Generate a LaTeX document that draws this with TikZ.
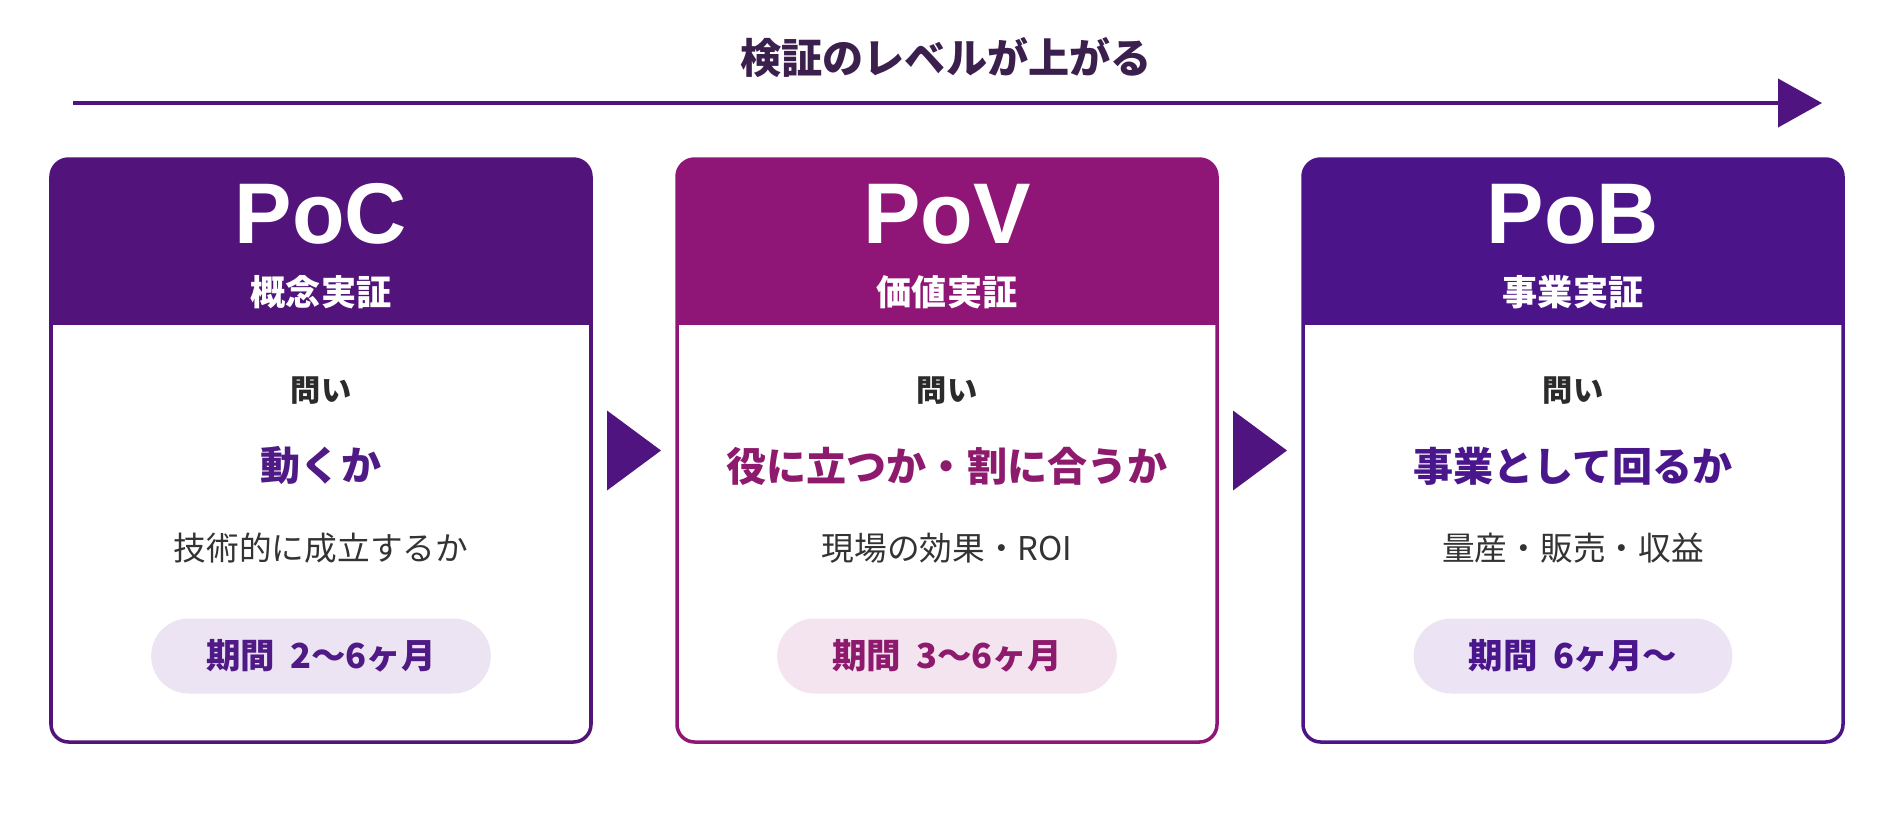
\documentclass[tikz,border=0pt]{standalone}
\usepackage{fontspec}
\setmainfont{Noto Sans CJK JP}
\newfontfamily\headfont{Liberation Sans}
\usetikzlibrary{arrows.meta, positioning, calc}

\definecolor{pocmain}{HTML}{52147A}
\definecolor{povmain}{HTML}{8F1676}
\definecolor{pobmain}{HTML}{4B1489}
\definecolor{pocpill}{HTML}{ECE3F3}
\definecolor{povpill}{HTML}{F4E4EF}
\definecolor{pobpill}{HTML}{ECE4F4}
\definecolor{poctext}{HTML}{4F1A85}
\definecolor{povtext}{HTML}{8E1A6E}
\definecolor{pobtext}{HTML}{4A168C}
\definecolor{titletext}{HTML}{3B1F4D}
\definecolor{asktext}{HTML}{2B2B2B}
\definecolor{bodytext}{HTML}{333333}
\definecolor{flowline}{HTML}{4F1480}

\begin{document}
\begin{tikzpicture}[every node/.style={inner sep=0pt}]
  \useasboundingbox[fill=white] (0,0) rectangle (19.02,8.27);

  \tikzset{
    card/.style={draw=#1, line width=1pt, fill=white, rounded corners=5pt,
      minimum width=5.40cm, minimum height=5.83cm,
      path picture={\fill[#1, sharp corners] (path picture bounding box.north west)
        rectangle ([yshift=-1.66cm]path picture bounding box.north east);}},
    pill/.style={rounded corners=0.375cm, minimum height=0.75cm, inner xsep=0.55cm,
      font=\bfseries\fontsize{9.8}{10}\selectfont}
  }

  % Level arrow and title
  \coordinate (level start) at (0.73,7.24);
  \coordinate (level end) at (18.22,7.24);
  \draw[flowline, line width=1.2pt, -{Triangle[length=4.4mm, width=4.8mm]}]
    (level start) -- (level end);
  \node[text=titletext, font=\bfseries\fontsize{11.7}{12}\selectfont]
    (level title) at (9.46,7.69) {検証のレベルが上がる};

  \def\cardW{5.40}
  \def\cardY{3.765}

  % Helper macro: \phasecard{x_left}{main}{pill}{text}{name}{subtitle}{question}{detail}{period}
  \def\phasecard#1#2#3#4#5#6#7#8#9{%
    \pgfmathsetmacro{\xmid}{#1+\cardW/2}
    \node[card=#2] (#5) at (\xmid,\cardY) {};
    \node[text=white, font=\headfont\bfseries\fontsize{24.5}{25}\selectfont] (#5-name) at (\xmid,6.13) {#5};
    \node[text=white, font=\bfseries\fontsize{10}{10}\selectfont] (#5-sub) at (\xmid,5.35) {#6};
    \node[text=asktext, font=\bfseries\fontsize{8.6}{9}\selectfont] (#5-ask) at (\xmid,4.36) {問い};
    \node[text=#4, font=\bfseries\fontsize{11.4}{12}\selectfont] (#5-q) at (\xmid,3.61) {#7};
    \node[text=bodytext, font=\fontsize{9.3}{10}\selectfont] (#5-detail) at (\xmid,2.79) {#8};
    \node[pill, fill=#3, text=#4] (#5-period) at (\xmid,1.71) {#9};
  }

  \phasecard{0.51}{pocmain}{pocpill}{poctext}{PoC}{概念実証}{動くか}{技術的に成立するか}{期間\hspace{0.45em}2〜6ヶ月}
  \phasecard{6.77}{povmain}{povpill}{povtext}{PoV}{価値実証}{役に立つか・割に合うか}{現場の効果・ROI}{期間\hspace{0.45em}3〜6ヶ月}
  \phasecard{13.03}{pobmain}{pobpill}{pobtext}{PoB}{事業実証}{事業として回るか}{量産・販売・収益}{期間\hspace{0.45em}6ヶ月〜}

  % Step markers between cards
  \foreach \a/\b in {PoC/PoV, PoV/PoB} {
    \coordinate (\a-to-\b) at ($(\a.east)!0.5!(\b.west)$);
    \fill[flowline] ($(\a-to-\b)+(-0.27,0.40)$) -- ($(\a-to-\b)+(0.27,0)$)
      -- ($(\a-to-\b)+(-0.27,-0.40)$) -- cycle;
  }
\end{tikzpicture}
\end{document}
